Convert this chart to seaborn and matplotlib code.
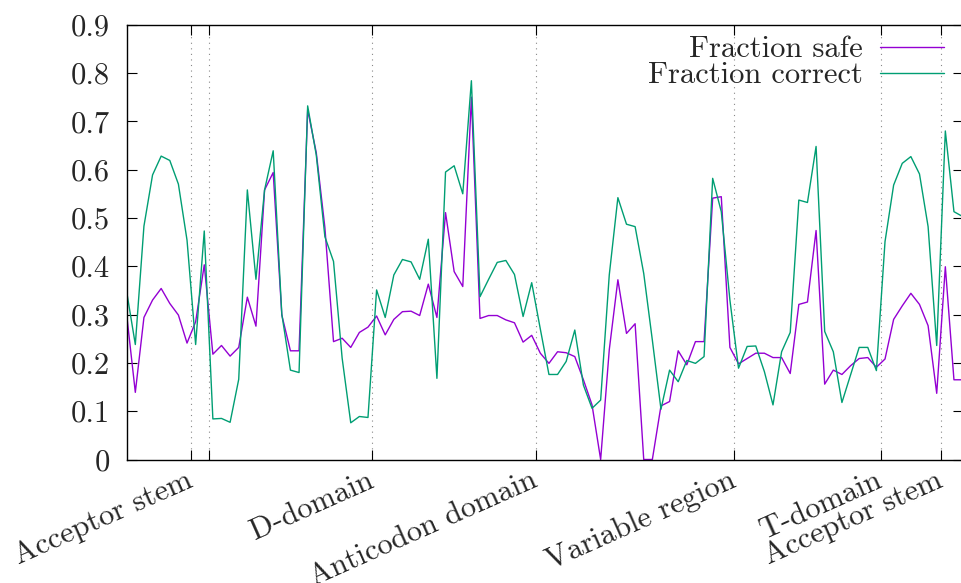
import numpy as np
import pandas as pd
import matplotlib
matplotlib.use("Agg")
import matplotlib.pyplot as plt
import seaborn as sns
from matplotlib.ticker import FuncFormatter

# ---- data ----
positions = np.arange(98)
fraction_safe = [0.299, 0.139, 0.294, 0.330, 0.354, 0.323, 0.299, 0.241, 0.285, 0.403,
                 0.218, 0.236, 0.214, 0.232, 0.336, 0.276, 0.558, 0.594, 0.299, 0.225,
                 0.225, 0.724, 0.635, 0.480, 0.244, 0.251, 0.232, 0.263, 0.274, 0.297,
                 0.258, 0.290, 0.306, 0.307, 0.298, 0.363, 0.294, 0.511, 0.389, 0.358,
                 0.750, 0.292, 0.298, 0.298, 0.289, 0.283, 0.243, 0.257, 0.220, 0.199,
                 0.223, 0.221, 0.213, 0.165, 0.113, 0.000, 0.227, 0.372, 0.261, 0.281,
                 0.000, 0.000, 0.111, 0.120, 0.225, 0.196, 0.244, 0.244, 0.541, 0.544,
                 0.232, 0.198, 0.209, 0.220, 0.220, 0.211, 0.211, 0.178, 0.321, 0.326,
                 0.474, 0.156, 0.185, 0.176, 0.194, 0.209, 0.211, 0.191, 0.208, 0.290,
                 0.318, 0.344, 0.321, 0.277, 0.137, 0.399, 0.165, 0.165]
fraction_correct = [0.347, 0.238, 0.483, 0.589, 0.628, 0.619, 0.570, 0.454, 0.238, 0.473,
                    0.084, 0.085, 0.077, 0.166, 0.558, 0.373, 0.558, 0.639, 0.301, 0.185,
                    0.180, 0.732, 0.630, 0.461, 0.410, 0.210, 0.076, 0.089, 0.087, 0.351,
                    0.294, 0.382, 0.414, 0.409, 0.373, 0.456, 0.168, 0.595, 0.608, 0.550,
                    0.784, 0.337, 0.373, 0.408, 0.412, 0.383, 0.296, 0.366, 0.270, 0.176,
                    0.176, 0.203, 0.268, 0.154, 0.106, 0.123, 0.382, 0.542, 0.487, 0.482,
                    0.385, 0.247, 0.104, 0.185, 0.161, 0.205, 0.199, 0.213, 0.582, 0.513,
                    0.330, 0.189, 0.234, 0.235, 0.182, 0.113, 0.223, 0.263, 0.537, 0.532,
                    0.648, 0.265, 0.223, 0.118, 0.175, 0.232, 0.232, 0.184, 0.451, 0.568,
                    0.613, 0.627, 0.591, 0.482, 0.236, 0.680, 0.513, 0.503]
series_names = ["Fraction safe", "Fraction correct"]
region_ticks = [7.5, 9.5, 28.5, 47.5, 70.5, 87.5, 94.5]
region_labels = ["Acceptor stem", "", "D-domain", "Anticodon domain",
                 "Variable region", "T-domain", "Acceptor stem"]
y_ticks = [0, 0.1, 0.2, 0.3, 0.4, 0.5, 0.6, 0.7, 0.8, 0.9]

df = pd.DataFrame({
    "pos": np.concatenate([positions, positions]),
    "value": fraction_safe + fraction_correct,
    "series": [series_names[0]] * len(positions) + [series_names[1]] * len(positions),
})

sns.set_theme(style="ticks")
plt.rcParams["font.family"] = ["cmr10", "DejaVu Serif"]
plt.rcParams["axes.formatter.use_mathtext"] = True
plt.rcParams["mathtext.fontset"] = "cm"

FS = 22
fig = plt.figure(figsize=(9.62, 5.83), dpi=100)
ax = fig.add_axes([126.7 / 962, 123.5 / 583, (963 - 126.7) / 962, (459.5 - 24.7) / 583])

palette = {"Fraction safe": "#9400D3", "Fraction correct": "#009E73"}
sns.lineplot(data=df, x="pos", y="value", hue="series", hue_order=series_names,
             palette=palette, linewidth=1.0, ax=ax, legend=False)

ax.set_xlim(0, 97.05)
ax.set_ylim(0, 0.9)
ax.set_xlabel("")
ax.set_ylabel("")

ax.set_yticks(y_ticks)
ax.yaxis.set_major_formatter(FuncFormatter(lambda v, p: "%g" % v))
ax.set_xticks(region_ticks)
ax.set_xticklabels(region_labels, rotation=24, ha="right", va="center",
                   rotation_mode="anchor", fontsize=FS)
for lab in ax.get_yticklabels():
    lab.set_fontsize(FS)

ax.tick_params(axis="both", direction="in", length=7, width=0.8, color="black",
               top=True, right=True)
ax.tick_params(axis="y", pad=12)
ax.tick_params(axis="x", pad=14)

ax.grid(axis="x", linestyle=(0, (1, 4)), color="#888888", linewidth=0.8)
ax.grid(axis="y", visible=False)
for s in ax.spines.values():
    s.set_linewidth(1.0)
    s.set_color("black")

handles = ax.get_lines()[:2]
leg = ax.legend(handles, series_names, loc="upper right", frameon=False,
                markerfirst=False, fontsize=FS, handlelength=2.1, handletextpad=0.55,
                labelspacing=-0.05, borderpad=0, borderaxespad=0,
                bbox_to_anchor=((944 - 126.7) / 836.3, (459.5 - 36) / 434.8))

fig.savefig("out.png", dpi=100)
